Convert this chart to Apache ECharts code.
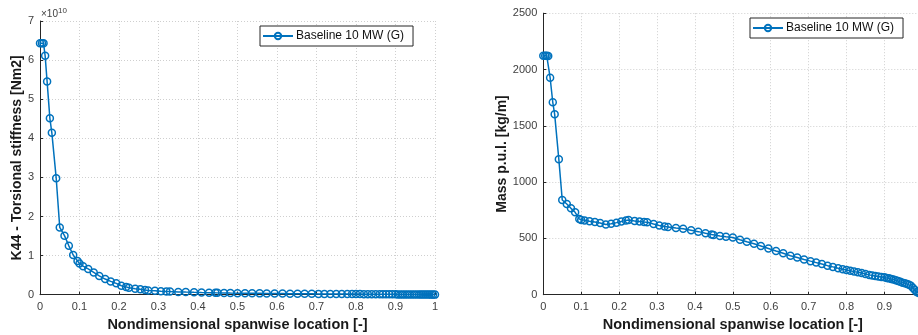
<!DOCTYPE html>
<html>
<head>
<meta charset="utf-8">
<script src="https://cdn.jsdelivr.net/npm/echarts@6/dist/echarts.min.js"></script>
<style>
  html, body { margin: 0; padding: 0; background: #fff; }
  #chart { width: 918px; height: 335px; }
</style>
</head>
<body>
<div id="chart"></div>
<script>
// Spanwise stations (nondimensional, 0 = root, 1 = tip)
const span = [
  0, 0.005, 0.009, 0.013, 0.018, 0.025, 0.030, 0.041, 0.050, 0.062,
  0.073, 0.084, 0.095, 0.100, 0.109, 0.122, 0.136, 0.150, 0.165, 0.179,
  0.193, 0.206, 0.218, 0.225, 0.241, 0.254, 0.266, 0.274, 0.291, 0.306,
  0.320, 0.329, 0.350, 0.369, 0.390, 0.409, 0.428, 0.444, 0.449, 0.466,
  0.482, 0.500, 0.519, 0.537, 0.556, 0.574, 0.594, 0.614, 0.633, 0.652,
  0.670, 0.688, 0.705, 0.720, 0.735, 0.750, 0.764, 0.778, 0.790, 0.800,
  0.810, 0.820, 0.830, 0.840, 0.850, 0.860, 0.868, 0.876, 0.884, 0.892,
  0.900, 0.906, 0.912, 0.918, 0.924, 0.930, 0.936, 0.942, 0.948, 0.954,
  0.960, 0.965, 0.970, 0.975, 0.980, 0.985, 0.990, 0.995, 1.000
];

// K44 torsional stiffness [Nm2]
const torsionalStiffness = [
  6.43e10, 6.43e10, 6.43e10, 6.11e10, 5.45e10, 4.51e10, 4.14e10, 2.98e10, 1.72e10, 1.51e10,
  1.25e10, 1.015e10, 0.86e10, 0.80e10, 0.73e10, 0.66e10, 0.57e10, 0.48e10, 0.40e10, 0.34e10,
  0.29e10, 0.23e10, 0.20e10, 0.18e10, 0.155e10, 0.14e10, 0.12e10, 0.11e10, 0.10e10, 0.09e10,
  0.085e10, 0.08e10, 0.072e10, 0.066e10, 0.060e10, 0.055e10, 0.051e10, 0.048e10, 0.047e10, 0.045e10,
  0.042e10, 0.040e10, 0.038e10, 0.036e10, 0.034e10, 0.032e10, 0.030e10, 0.028e10, 0.026e10, 0.024e10,
  0.023e10, 0.022e10, 0.021e10, 0.020e10, 0.019e10, 0.018e10, 0.017e10, 0.016e10, 0.016e10, 0.015e10,
  0.015e10, 0.014e10, 0.013e10, 0.013e10, 0.012e10, 0.011e10, 0.011e10, 0.010e10, 0.010e10, 0.009e10,
  0.009e10, 0.008e10, 0.008e10, 0.007e10, 0.007e10, 0.006e10, 0.006e10, 0.005e10, 0.005e10, 0.005e10,
  0.004e10, 0.004e10, 0.004e10, 0.003e10, 0.003e10, 0.003e10, 0.002e10, 0.002e10, 0.002e10
];

// Mass per unit length [kg/m]
const massPerLength = [
  2123, 2123, 2123, 2120, 1927, 1709, 1602, 1202, 841, 805,
  767, 732, 672, 663, 660, 652, 645, 636, 624, 630,
  640, 650, 660, 663, 655, 650, 645, 643, 628, 615,
  606, 602, 592, 585, 572, 560, 545, 535, 530, 522,
  515, 508, 488, 470, 452, 432, 410, 388, 368, 346,
  330, 313, 298, 285, 272, 258, 247, 235, 226, 219,
  212, 205, 199, 192, 183, 176, 171, 167, 162, 158,
  154, 149, 145, 140, 134, 128, 121, 114, 107, 101,
  94, 88, 80, 62, 45, 25, 15, 10, 5
];

const seriesName = 'Baseline 10 MW (G)';
const xTicks = { min: 0, max: 1, interval: 0.1 };

const blue = '#0072BD';
const axisColor = '#262626';
const labelColor = '#404040';
const fontFamily = '"Liberation Sans", Arial, Helvetica, sans-serif';

const toPairs = (xs, ys) => xs.map((x, i) => [x, ys[i]]);

function xAxisFor(gridIndex) {
  return {
    type: 'value', gridIndex,
    min: xTicks.min, max: xTicks.max, interval: xTicks.interval,
    name: 'Nondimensional spanwise location [-]',
    nameLocation: 'middle', nameGap: 20,
    nameTextStyle: { fontFamily, fontSize: 14.5, fontWeight: 'bold', color: '#1a1a1a' },
    axisLine: { show: true, onZero: false, lineStyle: { color: axisColor, width: 1 } },
    axisTick: { show: true, inside: true, length: 3, lineStyle: { color: axisColor } },
    axisLabel: {
      fontFamily, fontSize: 11, color: labelColor, margin: 7,
      formatter: v => String(Math.round(v * 10) / 10)
    },
    splitLine: { show: true, lineStyle: { color: '#cfcfcf', type: [1, 2], width: 1 } }
  };
}

function yAxisFor(gridIndex, opts) {
  return Object.assign({
    type: 'value', gridIndex,
    nameLocation: 'middle', nameRotate: 90,
    nameTextStyle: { fontFamily, fontSize: 14, fontWeight: 'bold', color: '#1a1a1a' },
    axisLine: { show: true, onZero: false, lineStyle: { color: axisColor, width: 1 } },
    axisTick: { show: true, inside: true, length: 3, lineStyle: { color: axisColor } },
    splitLine: { show: true, lineStyle: { color: '#cfcfcf', type: [1, 2], width: 1 } }
  }, opts);
}

function lineSeries(idx, data) {
  return {
    name: seriesName, type: 'line',
    xAxisIndex: idx, yAxisIndex: idx,
    data,
    symbol: 'circle', symbolSize: 7, showSymbol: true,
    lineStyle: { color: blue, width: 1.5 },
    itemStyle: { color: 'rgba(255,255,255,0)', borderColor: blue, borderWidth: 1.5 },
    emphasis: { disabled: true },
    animation: false,
    clip: true
  };
}

function legendAt(left, top) {
  return {
    left, top,
    orient: 'horizontal',
    padding: [4, 9, 4, 2],
    itemGap: 0,
    itemWidth: 30, itemHeight: 8,
    borderColor: '#262626', borderWidth: 1,
    backgroundColor: '#fff',
    textStyle: { fontFamily, fontSize: 12, color: '#111', padding: [0, 0, 0, -2] },
    data: [seriesName],
    selectedMode: false
  };
}

const chart = echarts.init(document.getElementById('chart'), null, { renderer: 'canvas' });

chart.setOption({
  animation: false,
  backgroundColor: '#fff',
  grid: [
    { left: 40, right: 483, top: 21, bottom: 40.3, outerBoundsMode: 'none', containLabel: false },
    { left: 543.3, right: -4.3, top: 13.2, bottom: 40.3, outerBoundsMode: 'none', containLabel: false }
  ],
  xAxis: [xAxisFor(0), xAxisFor(1)],
  yAxis: [
    yAxisFor(0, {
      min: 0, max: 7e10, interval: 1e10,
      name: 'K44 - Torsional stiffness [Nm2]', nameGap: 15,
      axisLabel: { fontFamily, fontSize: 11, color: labelColor, margin: 6, formatter: v => String(Math.round(v / 1e10)) }
    }),
    yAxisFor(1, {
      min: 0, max: 2500, interval: 500,
      name: 'Mass p.u.l. [kg/m]', nameGap: 28,
      axisLabel: { fontFamily, fontSize: 11, color: labelColor, margin: 6, formatter: v => String(v) }
    })
  ],
  legend: [legendAt(260, 26), legendAt(750, 18)],
  graphic: [{
    type: 'text', left: 41, top: 7,
    style: {
      text: '×10{sup|10}',
      fontFamily, fontSize: 10, fill: labelColor,
      rich: { sup: { fontFamily, fontSize: 8, fill: labelColor, verticalAlign: 'top', padding: [0, 0, 6, 0] } }
    }
  }],
  series: [
    lineSeries(0, toPairs(span, torsionalStiffness)),
    lineSeries(1, toPairs(span, massPerLength))
  ]
});
</script>
</body>
</html>
